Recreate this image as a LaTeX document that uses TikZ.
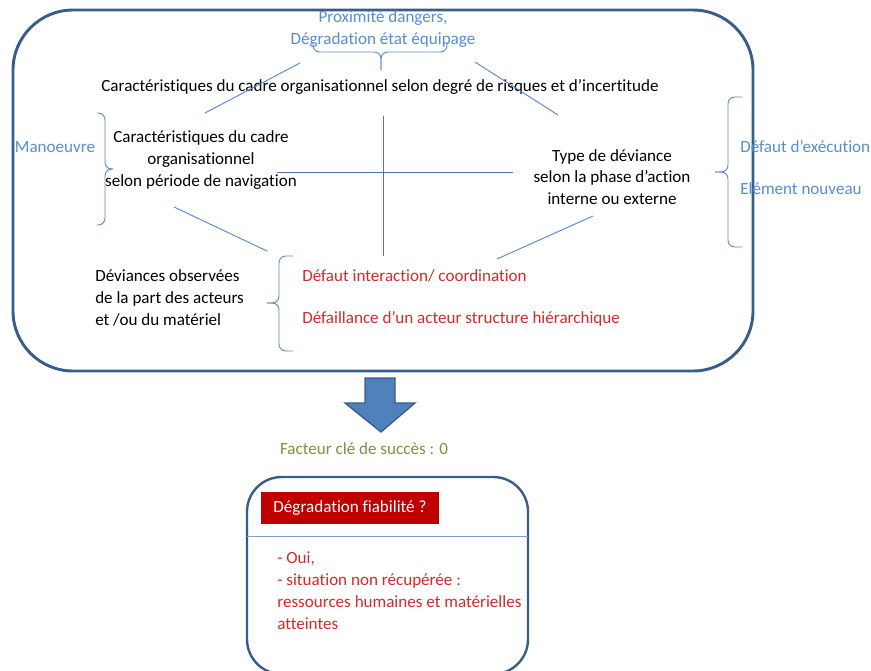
\documentclass[tikz,border=0pt]{standalone}
\usepackage{fontspec}
\setmainfont{Carlito}[Ligatures=NoCommon]
\usetikzlibrary{positioning,calc}
\definecolor{cadre}{HTML}{385D8A}
\definecolor{lien}{HTML}{5A87C6}
\definecolor{bleuclair}{HTML}{558ED5}
\definecolor{rouge}{HTML}{D42A2A}
\definecolor{rougefonce}{HTML}{C00000}
\definecolor{vertolive}{HTML}{77933C}
\definecolor{flecheb}{HTML}{4F81BD}
\tikzset{
  txt/.style={inner sep=0pt, font=\fontsize{12.8}{16.2}\selectfont, align=center},
  bleu/.style={txt, text=bleuclair},
  rge/.style={txt, text=rouge, anchor=west},
  trait/.style={draw=lien, line width=0.7pt},
  accolade/.style={trait, rounded corners=5pt}
}

\begin{document}
\begin{tikzpicture}[x=0.75pt,y=-0.75pt]
\useasboundingbox (0,0) rectangle (871,671);

% Cadre principal
\draw[cadre, line width=2.2pt, rounded corners=45pt] (13,10) rectangle (753,371);

\node[bleu] (prox) at (383,29) {Proximité dangers,\\Dégradation état équipage};
\node[txt] (risque) at (380,87) {Caractéristiques du cadre organisationnel selon degré de risques et d’incertitude};
\node[txt] (periode) at (201,160) {Caractéristiques du cadre\\organisationnel\\selon période de navigation};
\node[bleu] (manoeuvre) at (55,147) {Manoeuvre};
\node[txt] (deviance) at (612,177) {Type de déviance\\selon la phase d’action\\interne ou externe};
\node[bleu,anchor=west] (defaut) at (740,147) {Défaut d’exécution};
\node[bleu,anchor=west] (element) at (740,189) {Elément nouveau};
\node[txt,align=left,anchor=west] (observees) at (95,298) {Déviances observées\\de la part des acteurs\\et /ou du matériel};
\node[rge] (interaction) at (302,276) {Défaut interaction/ coordination};
\node[rge] (defaillance) at (302,319) {Défaillance d’un acteur structure hiérarchique};

% Axes
\coordinate (hg1) at (300,63);  \coordinate (hg2) at (205,113);
\coordinate (hd1) at (475,62);  \coordinate (hd2) at (558,115);
\coordinate (bg1) at (174,207); \coordinate (bg2) at (267,251);
\coordinate (bd1) at (593,216); \coordinate (bd2) at (497,259);
\coordinate (v1) at (383,116);  \coordinate (v2) at (383,256);
\coordinate (h1) at (277,172);  \coordinate (h2) at (513,172);
\draw[trait] (hg1) -- (hg2);
\draw[trait] (hd1) -- (hd2);
\draw[trait] (bg1) -- (bg2);
\draw[trait] (bd1) -- (bd2);
\draw[trait, draw=cadre!85] (v1) -- (v2);
\draw[trait, draw=cadre!85] (h1) -- (h2);

% Accolades
\draw[accolade] (313,42) |- (381,52) -- (381,70);
\draw[accolade] (381,70) -- (381,52) -| (447,42);
\draw[accolade] (97,113) -| (105,169) -- (113,169);
\draw[accolade] (113,169) -- (105,169) |- (97,225);
\draw[accolade] (742,97) -| (728,172) -- (715,172);
\draw[accolade] (715,172) -- (728,172) |- (742,247);
\draw[accolade] (293,256) -| (279,303) -- (267,303);
\draw[accolade] (267,303) -- (279,303) |- (293,351);

% Fleche vers le bilan
\draw[fill=flecheb, draw=cadre, line width=1pt] (365,378) -- (395,378) -- (395,403) -- (415,403)
  -- (381,432) -- (345,403) -- (365,403) -- cycle;
\node[txt, text=vertolive] (facteur) at (364,449) {Facteur clé de succès : 0};

% Bilan
\draw[cadre, line width=1.8pt, rounded corners=26pt] (247,477) rectangle (528,674);
\node[fill=rougefonce, text=white, inner sep=0pt, minimum width=134pt, minimum height=24pt,
  font=\fontsize{12.8}{14}\selectfont] (fiab) at (350,508) {Dégradation fiabilité ?};
\coordinate (s1) at (247,536); \coordinate (s2) at (528,536);
\draw[trait, draw=lien!80] (s1) -- (s2);
\node[txt, text=rouge, align=left, anchor=west, font=\fontsize{12.8}{16.5}\selectfont] (reponse) at (277,591)
  {- Oui,\\- situation non récupérée :\\ressources humaines et matérielles\\atteintes};
\end{tikzpicture}
\end{document}
